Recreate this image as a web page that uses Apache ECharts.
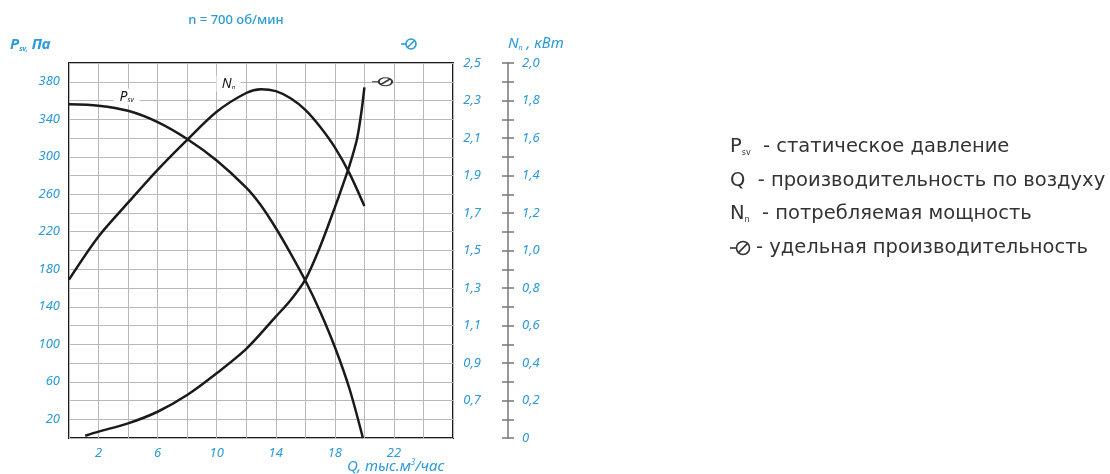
<!DOCTYPE html>
<html>
<head>
<meta charset="utf-8">
<script src="https://cdn.jsdelivr.net/npm/echarts@6/dist/echarts.min.js"></script>
<style>
  html, body { margin: 0; padding: 0; background: #fff; }
  #chart { width: 1110px; height: 474px; }
</style>
</head>
<body>
<div id="chart"></div>
<script>
// статическое давление, Па
const qPsv = [0, 2, 4, 6, 8, 10, 12, 13, 14, 15, 16, 17, 18, 19, 19.9];
const psv = [356, 354.5, 349, 337, 319, 296, 267, 248, 224, 197, 168, 135, 97, 52, 0];

// потребляемая мощность, кВт
const qN = [0, 2, 4, 6, 8, 10, 12, 13, 14, 15, 16, 17, 18, 19, 20];
const nPower = [0.845, 1.075, 1.255, 1.43, 1.59, 1.74, 1.84, 1.86, 1.85, 1.812, 1.75, 1.66, 1.55, 1.41, 1.237];

// удельная производительность
const qTheta = [1.1, 2, 4, 6, 8, 10, 12, 14, 15, 16, 17, 18, 18.5, 19, 19.5, 19.8, 20];
const theta = [0.512, 0.534, 0.578, 0.64, 0.729, 0.845, 0.975, 1.147, 1.235, 1.345, 1.52, 1.73, 1.84, 1.955, 2.095, 2.24, 2.37];

const xLabels = [2, 6, 10, 14, 18, 22];
const psvLabels = [20, 60, 100, 140, 180, 220, 260, 300, 340, 380];

const BLUE = '#2a9ad9';
const FONT = '"Noto Sans", sans-serif';
const LEGEND_FONT = '"DejaVu Sans", sans-serif';
const zip = (xs, ys) => xs.map((x, i) => [x, ys[i]]);
const comma = (v) => v.toFixed(1).replace('.', ',');

// значок "Θ" для метки на кривой
const thetaPath = 'M17.5 7 A5.5 5.5 0 1 1 6.5 7 A5.5 5.5 0 1 1 17.5 7 Z M8.2 10.8 L15.8 3.2 M1 7 L6.5 7';

// тот же значок из примитивов: круг, косая черта, штрих слева
const thetaIcon = (cx, cy, r, color) => ({
  type: 'group',
  children: [
    { type: 'circle', shape: { cx, cy, r }, style: { fill: 'none', stroke: color, lineWidth: 1.6 } },
    { type: 'line', shape: { x1: cx - r * 0.75, y1: cy + r * 0.75, x2: cx + r * 0.75, y2: cy - r * 0.75 }, style: { stroke: color, lineWidth: 1.6 } },
    { type: 'line', shape: { x1: cx - r * 2, y1: cy, x2: cx - r, y2: cy }, style: { stroke: color, lineWidth: 1.6 } },
  ],
});

const chart = echarts.init(document.getElementById('chart'));

const axisLabelStyle = {
  color: BLUE,
  fontStyle: 'italic',
  fontSize: 13,
  fontFamily: FONT,
};

const curveStyle = { color: '#1a1a1a', width: 2.5 };

chart.setOption({
  animation: false,
  grid: {
    left: 69, top: 63, width: 384, height: 375,
    show: true, borderColor: '#1a1a1a', borderWidth: 2, backgroundColor: 'transparent',
  },
  xAxis: {
    type: 'value', min: 0, max: 26, interval: 2,
    axisLine: { show: false }, axisTick: { show: false },
    splitLine: { lineStyle: { color: '#b8b8b8', width: 1 } },
    axisLabel: {
      ...axisLabelStyle, margin: 9,
      formatter: (v) => (xLabels.includes(v) ? String(v) : ''),
    },
  },
  yAxis: [
    {
      type: 'value', position: 'left', min: 0, max: 400, interval: 20,
      axisLine: { show: false }, axisTick: { show: false },
      splitLine: { lineStyle: { color: '#b8b8b8', width: 1 } },
      axisLabel: {
        ...axisLabelStyle, margin: 9,
        formatter: (v) => (psvLabels.includes(v) ? String(v) : ''),
      },
    },
    {
      type: 'value', position: 'right', min: 0.5, max: 2.5, interval: 0.1,
      axisLine: { show: false }, axisTick: { show: false }, splitLine: { show: false },
      axisLabel: {
        ...axisLabelStyle, margin: 28, align: 'right',
        formatter: (v) => {
          const t = Math.round(v * 10);
          return t % 2 === 1 && t > 5 ? comma(v) : '';
        },
      },
    },
    {
      type: 'value', position: 'right', offset: 55, min: 0, max: 2, interval: 0.1,
      axisLine: { show: true, lineStyle: { color: '#777', width: 1.5 } },
      axisTick: { show: true, length: 6, lineStyle: { color: '#777', width: 1.5 } },
      splitLine: { show: false },
      axisLabel: {
        ...axisLabelStyle, margin: 14,
        formatter: (v) => {
          const t = Math.round(v * 10);
          if (t % 2 !== 0) return '';
          return t === 0 ? '0' : comma(v);
        },
      },
    },
    {
      // внутренние засечки шкалы N
      type: 'value', position: 'right', offset: 55, min: 0, max: 2, interval: 0.1,
      axisLine: { show: false },
      axisTick: { show: true, inside: true, length: 6, lineStyle: { color: '#777', width: 1.5 } },
      axisLabel: { show: false }, splitLine: { show: false },
    },
  ],
  series: [
    {
      name: 'Psv', type: 'line', yAxisIndex: 0, data: zip(qPsv, psv),
      smooth: 0.3, symbol: 'none', lineStyle: curveStyle,
      markPoint: {
        symbol: 'rect', symbolSize: [26, 16], itemStyle: { color: '#fff' },
        label: {
          show: true, position: 'inside', color: '#1a1a1a',
          formatter: '{p|P}{s|sv}',
          rich: {
            p: { fontSize: 14, fontStyle: 'italic', fontFamily: FONT },
            s: { fontSize: 7, fontStyle: 'italic', fontFamily: FONT, verticalAlign: 'bottom', padding: [6, 0, 0, 0] },
          },
        },
        data: [{ coord: [3.9, 364] }],
      },
    },
    {
      name: 'N', type: 'line', yAxisIndex: 2, data: zip(qN, nPower),
      smooth: 0.3, symbol: 'none', lineStyle: curveStyle,
      markPoint: {
        symbol: 'rect', symbolSize: [24, 16], itemStyle: { color: '#fff' },
        label: {
          show: true, position: 'inside', color: '#1a1a1a',
          formatter: '{p|N}{s|n}',
          rich: {
            p: { fontSize: 14, fontStyle: 'italic', fontFamily: FONT },
            s: { fontSize: 6, fontStyle: 'italic', fontFamily: FONT, verticalAlign: 'bottom', padding: [6, 0, 0, 0] },
          },
        },
        data: [{ coord: [10.8, 1.89] }],
      },
    },
    {
      name: 'Theta', type: 'line', yAxisIndex: 1, data: zip(qTheta, theta),
      smooth: 0.3, symbol: 'none', lineStyle: curveStyle,
      markPoint: {
        symbol: 'path://' + thetaPath, symbolSize: [20, 12], symbolKeepAspect: true,
        itemStyle: { color: '#fff', borderColor: '#333', borderWidth: 1.6 },
        label: { show: false },
        data: [{ coord: [21.2, 2.40] }],
      },
    },
  ],
  graphic: [
    {
      type: 'text', x: 236, y: 20,
      style: {
        text: 'n = 700 об/мин', fill: BLUE, font: `500 13px ${FONT}`,
        align: 'center', verticalAlign: 'middle',
      },
    },
    {
      type: 'text', x: 10, y: 45,
      style: {
        text: '{p|P}{s|sv,}{p| Па}', fill: BLUE, verticalAlign: 'middle',
        rich: {
          p: { fontSize: 15, fontWeight: 'bold', fontStyle: 'italic', fontFamily: FONT, fill: BLUE },
          s: { fontSize: 7, fontWeight: 'bold', fontStyle: 'italic', fontFamily: FONT, fill: BLUE, verticalAlign: 'bottom', padding: [6, 0, 0, 0] },
        },
      },
    },
    thetaIcon(411, 44, 5, BLUE),
    {
      type: 'text', x: 508, y: 44,
      style: {
        text: '{p|N}{s|n}{p| , кВт}', fill: BLUE, verticalAlign: 'middle',
        rich: {
          p: { fontSize: 15, fontStyle: 'italic', fontFamily: FONT, fill: BLUE },
          s: { fontSize: 7, fontStyle: 'italic', fontFamily: FONT, fill: BLUE, verticalAlign: 'bottom', padding: [6, 0, 0, 0] },
        },
      },
    },
    {
      type: 'text', x: 347, y: 467,
      style: {
        text: '{q|Q, тыс.м}{sup|3}{q|/час}', verticalAlign: 'middle',
        rich: {
          q: { fontSize: 15, fontStyle: 'italic', fontFamily: FONT, fill: BLUE },
          sup: { fontSize: 8, fontStyle: 'italic', fontFamily: FONT, fill: BLUE, verticalAlign: 'top', padding: [0, 0, 8, 0] },
        },
      },
    },
    // легенда
    {
      type: 'text', x: 730, y: 147,
      style: {
        text: '{p|P}{s|sv}{p|  - статическое давление}', verticalAlign: 'middle',
        rich: {
          p: { fontSize: 19.5, fontFamily: LEGEND_FONT, fill: '#333' },
          s: { fontSize: 8, fontFamily: LEGEND_FONT, fill: '#333', verticalAlign: 'bottom', padding: [8, 0, 0, 0] },
        },
      },
    },
    {
      type: 'text', x: 730, y: 181,
      style: { text: 'Q  - производительность по воздуху', verticalAlign: 'middle', font: `19.5px ${LEGEND_FONT}`, fill: '#333' },
    },
    {
      type: 'text', x: 730, y: 214,
      style: {
        text: '{p|N}{s|n}{p|  - потребляемая мощность}', verticalAlign: 'middle',
        rich: {
          p: { fontSize: 19.5, fontFamily: LEGEND_FONT, fill: '#333' },
          s: { fontSize: 8, fontFamily: LEGEND_FONT, fill: '#333', verticalAlign: 'bottom', padding: [8, 0, 0, 0] },
        },
      },
    },
    thetaIcon(743, 248, 6.5, '#333'),
    {
      type: 'text', x: 756, y: 248,
      style: { text: '- удельная производительность', verticalAlign: 'middle', font: `19.5px ${LEGEND_FONT}`, fill: '#333' },
    },
  ],
});
</script>
</body>
</html>
